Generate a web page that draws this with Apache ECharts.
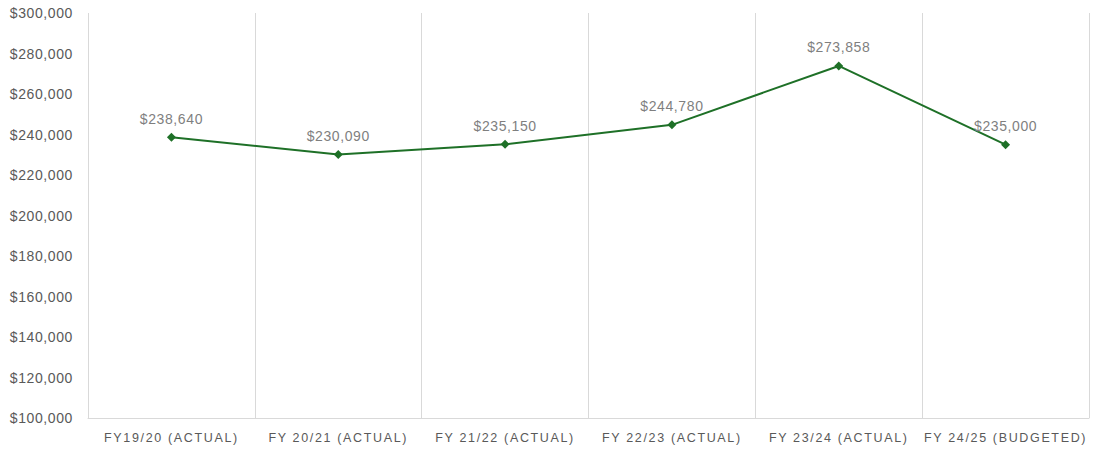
<!DOCTYPE html>
<html>
<head>
<meta charset="utf-8">
<script src="https://cdn.jsdelivr.net/npm/echarts@6/dist/echarts.min.js"></script>
<style>
html,body{margin:0;padding:0;background:#fff;}
#chart{width:1093px;height:449px;}
#chart svg text{letter-spacing:0.6px;}
</style>
</head>
<body>
<div id="chart"></div>
<script>
const categories = ['FY19/20 (ACTUAL)', 'FY 20/21 (ACTUAL)', 'FY 21/22 (ACTUAL)', 'FY 22/23 (ACTUAL)', 'FY 23/24 (ACTUAL)', 'FY 24/25 (BUDGETED)'];
const values = [238640, 230090, 235150, 244780, 273858, 235000];
const yMin = 100000, yMax = 300000, yStep = 20000;

const money = v => '$' + Number(v).toLocaleString('en-US');
const chart = echarts.init(document.getElementById('chart'), null, {renderer: 'svg'});
chart.setOption({
  animation: false,
  grid: {left: 88, right: 4, top: 13, bottom: 31, containLabel: false},
  xAxis: {
    type: 'category',
    data: categories,
    boundaryGap: true,
    axisLine: {show: true, lineStyle: {color: '#d9d9d9', width: 1}},
    axisTick: {show: false},
    splitLine: {show: true, lineStyle: {color: '#d9d9d9', width: 1}},
    axisLabel: {color: '#595959', fontFamily: 'Liberation Sans, Arial, sans-serif', fontSize: 12.5, margin: 13, interval: 0}
  },
  yAxis: {
    type: 'value',
    min: yMin, max: yMax, interval: yStep,
    axisLine: {show: false},
    axisTick: {show: false},
    splitLine: {show: false},
    axisLabel: {color: '#595959', fontFamily: 'Liberation Sans, Arial, sans-serif', fontSize: 14, margin: 15, formatter: money}
  },
  series: [{
    type: 'line',
    data: values,
    symbol: 'diamond',
    symbolSize: 9,
    lineStyle: {color: '#1e7027', width: 2},
    itemStyle: {color: '#1e7027'},
    label: {show: true, position: 'top', distance: 7, color: '#7f7f7f', fontFamily: 'Liberation Sans, Arial, sans-serif', fontSize: 14, formatter: p => money(p.value)}
  }]
});
function spaceX() {
  document.querySelectorAll('#chart svg text').forEach(t => {
    if (t.textContent.indexOf('FY') === 0) t.style.letterSpacing = '1.65px';
  });
}
chart.on('finished', spaceX);
spaceX();
</script>
</body>
</html>
